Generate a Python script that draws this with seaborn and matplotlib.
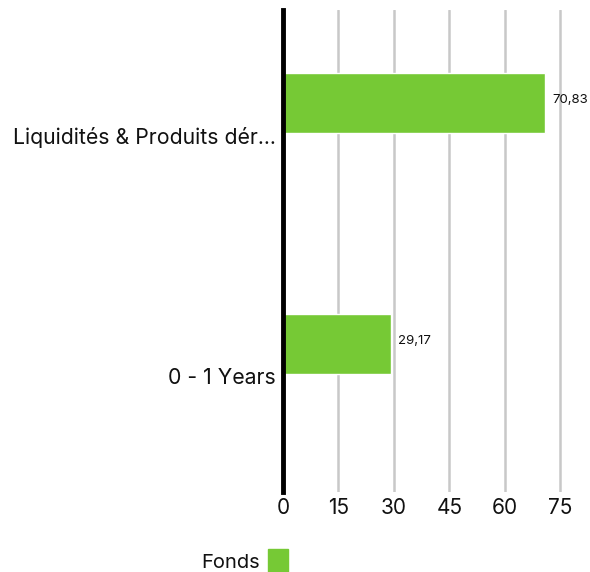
import matplotlib
matplotlib.use('Agg')
import matplotlib.pyplot as plt
import matplotlib.patches as mpatches
import matplotlib.transforms as mtransforms
import seaborn as sns
import pandas as pd

categories = ['Liquidités & Produits dér...', '0 - 1 Years']
values = [70.83, 29.17]
xticks = [0, 15, 30, 45, 60, 75]
series_name = 'Fonds'
green = '#76C935'

sns.set_style('white')
plt.rcParams['font.family'] = ['Inter', 'DejaVu Sans']
plt.rcParams['text.color'] = '#111111'

data = pd.DataFrame({'cat': categories, 'val': values})

fig = plt.figure(figsize=(5.9, 5.72), dpi=100)
ax = fig.add_axes([283 / 590, 80 / 572, 292 / 590, 482 / 572])

sns.barplot(data=data, x='val', y='cat', orient='h', color=green,
            width=0.25, saturation=1, ax=ax)

# bars sit just above their tick
for p in ax.patches:
    p.set_y(p.get_y() - 0.115)

for p, v in zip(ax.patches, values):
    ax.text(p.get_width() + 2, p.get_y() + p.get_height() * 0.45,
            f'{v:.2f}'.replace('.', ','), va='center', ha='left',
            fontsize=9.5, color='#111111')

ax.set_xlim(0, 79)
ax.set_ylim(1.5, -0.5)
ax.set_xticks(xticks)
ax.set_xticklabels([str(t) for t in xticks], fontsize=15)
ax.tick_params(axis='y', labelsize=15.3, length=0, pad=5, labelcolor='#111111')
ax.tick_params(axis='x', length=0, pad=4, labelcolor='#111111')
ax.set_xlabel('')
ax.set_ylabel('')

shift = mtransforms.ScaledTranslation(0, -3.5 / 72, fig.dpi_scale_trans)
for lbl in ax.get_yticklabels():
    lbl.set_transform(lbl.get_transform() + shift)

ax.xaxis.grid(True, color='#c8c8c8', linewidth=1.8)
ax.set_axisbelow(True)
for s in ['top', 'right', 'bottom']:
    ax.spines[s].set_visible(False)
ax.spines['left'].set_color('black')
ax.spines['left'].set_linewidth(3.5)

handle = mpatches.Patch(color=green)
fig.legend([handle], [series_name], loc='center',
           bbox_to_anchor=(245 / 590, 1 - 561 / 572), frameon=False,
           markerfirst=False, handlelength=1.0, handleheight=1.4,
           handletextpad=0.4, fontsize=14.5)

plt.savefig('out.png', dpi=100)
